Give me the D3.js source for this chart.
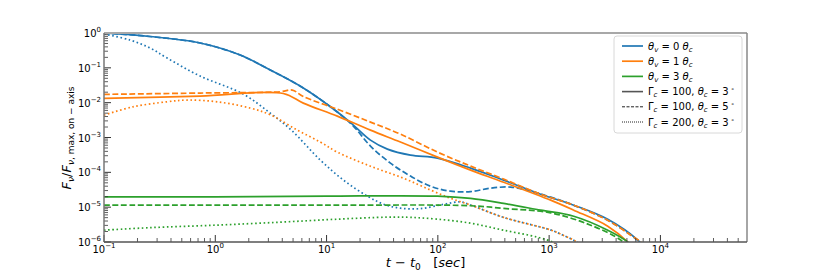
<!DOCTYPE html>
<html><head><meta charset="utf-8">
<script src="https://cdn.jsdelivr.net/npm/d3@7"></script>
<style>
body{margin:0;background:#fff}
svg{display:block}
text{font-family:"DejaVu Sans",sans-serif;fill:#000}
</style>
</head><body>
<svg id="c" width="830" height="277"></svg>
<script>
// ---------- data (t in sec, normalised flux) ----------
const xTickExps = [-1, 0, 1, 2, 3, 4];
const yTickExps = [-6, -5, -4, -3, -2, -1, 0];

// theta_v = 0 theta_c
const blueSolid = [[0.1,1.0],[0.259,0.793],[0.731,0.516],[1.675,0.233],[3.12,0.0865],[6.18,0.0263],[12.5,5.4e-3],[17.4,2.27e-3],[24.8,8.4e-4],[35.2,4.64e-4],[56.8,3.12e-4],[99.3,2.56e-4],[197,1.32e-4],[390,5.97e-5],[839,2.36e-5],[1663,1.14e-5],[3365,4.5e-6],[6270,1.13e-6],[7250,6.6e-7]];
const blueDashed = [[0.1,1.0],[0.259,0.793],[0.731,0.516],[1.675,0.233],[3.12,0.0865],[6.18,0.0263],[12.5,5.4e-3],[17.4,2.13e-3],[24.8,5.66e-4],[37.5,1.84e-4],[56.8,7.8e-5],[85.9,4.0e-5],[130,2.88e-5],[197,2.79e-5],[298,3.52e-5],[451,3.76e-5],[682,2.88e-5],[1033,1.94e-5],[1663,1.14e-5],[3365,4.2e-6],[6400,1.05e-6],[7250,6.6e-7]];
const blueDotted = [[0.1,0.936],[0.171,0.629],[0.259,0.371],[0.369,0.191],[0.731,0.058],[1.78,0.0177],[3.12,5.0e-3],[4.82,1.63e-3],[8.79,2.24e-4],[14.2,5.97e-5],[23.3,2.07e-5],[32.4,1.22e-5],[46.1,9.35e-6],[69.8,9.1e-6],[112,1.2e-5],[160,1.42e-5],[197,1.15e-5],[389,5.1e-6],[1040,2.2e-6],[1280,1.66e-6],[1770,1e-6],[2000,7e-7]];

// theta_v = 1 theta_c
const orangeSolid = [[0.1,0.0133],[0.731,0.0155],[4.08,0.0183],[6.18,9.7e-3],[12.5,4.1e-3],[24.8,1.63e-3],[46.1,7.4e-4],[99.3,2.73e-4],[197,1.16e-4],[390,5.2e-5],[1033,1.59e-5],[1663,8.2e-6],[3365,2.85e-6],[5093,9.9e-7],[5650,6.6e-7]];
const orangeDashed = [[0.1,0.0173],[0.731,0.0189],[3.84,0.0206],[4.92,0.0230],[6.18,0.0150],[12.5,6.5e-3],[24.8,2.77e-3],[46.1,1.25e-3],[99.3,3.8e-4],[197,1.51e-4],[390,6.4e-5],[839,2.36e-5],[1663,1.14e-5],[3365,4.2e-6],[5420,1.57e-6],[6670,9.9e-7],[7250,6.6e-7]];
const orangeDotted = [[0.1,4.4e-3],[0.182,7.6e-3],[0.369,0.0106],[0.558,0.0119],[1.04,0.0106],[2.06,7.0e-3],[3.12,4.5e-3],[5.46,1.63e-3],[8.79,7.4e-4],[12.5,3.8e-4],[24.8,1.5e-4],[49,6.8e-5],[86,3.1e-5],[130,1.8e-5],[197,1.15e-5],[389,5.1e-6],[1040,2.2e-6],[1280,1.66e-6],[1770,1e-6],[2000,7e-7]];

// theta_v = 3 theta_c
const greenSolid = [[0.1,1.98e-5],[1.0,1.98e-5],[10,2.07e-5],[99.3,2.07e-5],[197,1.78e-5],[390,1.28e-5],[839,8.2e-6],[1663,5.5e-6],[3365,2.18e-6],[5093,9.9e-7],[5420,7.6e-7]];
const greenDashed = [[0.1,1.14e-5],[10,1.14e-5],[197,1.10e-5],[390,9.2e-6],[1033,6.86e-6],[2366,3.04e-6],[4414,1.13e-6],[4900,7.6e-7]];
const greenDotted = [[0.1,2.18e-6],[0.259,2.58e-6],[1.0,3.04e-6],[3.84,3.71e-6],[12.5,4.52e-6],[35.2,5.16e-6],[56.8,5.1e-6],[99.3,4.52e-6],[197,3.47e-6],[390,2.18e-6],[789,1.37e-6],[1076,9.9e-7],[1170,8e-7]];

const colorLabels = ["0", "1", "3"];
const paramGamma = ["100", "100", "200"];
const paramTheta = ["3", "5", "3"];

// ---------- styling ----------
const C = ["#1f77b4", "#ff7f0e", "#2ca02c"];
const DASH = [null, "5.9,2.6", "1.6,2.6"];
const series = [
  [blueSolid, 0, 0], [blueDashed, 0, 1], [blueDotted, 0, 2],
  [orangeSolid, 1, 0], [orangeDashed, 1, 1], [orangeDotted, 1, 2],
  [greenSolid, 2, 0], [greenDashed, 2, 1], [greenDotted, 2, 2]
];

const L = 104, R = 747, T = 33, B = 242;
const svg = d3.select("#c");
const x = d3.scaleLog().domain([0.1, 6e4]).range([L, R]);
const y = d3.scaleLog().domain([1e-6, 1]).range([B, T]);

svg.append("defs").append("clipPath").attr("id", "clip")
  .append("rect").attr("x", L).attr("y", T).attr("width", R - L).attr("height", B - T);

const line = d3.line().x(d => x(d[0])).y(d => y(d[1])).curve(d3.curveCatmullRom.alpha(0.5));
const gLines = svg.append("g").attr("clip-path", "url(#clip)");
series.forEach(([data, ci, si]) => {
  gLines.append("path").attr("d", line(data))
    .attr("fill", "none").attr("stroke", C[ci]).attr("stroke-width", 1.7)
    .attr("stroke-dasharray", DASH[si]);
});

// ---------- ticks ----------
const gAx = svg.append("g");
const xMinor = [], yMinor = [];
for (let e = -1; e <= 4; e++) for (let m = 2; m <= 9; m++) { const v = m * Math.pow(10, e); if (v < 6e4) xMinor.push(v); }
for (let e = -6; e < 0; e++) for (let m = 2; m <= 9; m++) yMinor.push(m * Math.pow(10, e));
xMinor.forEach(v => gAx.append("line").attr("x1", x(v)).attr("x2", x(v)).attr("y1", B).attr("y2", B - 4).attr("stroke", "#333").attr("stroke-width", 0.8));
yMinor.forEach(v => gAx.append("line").attr("x1", L).attr("x2", L + 4).attr("y1", y(v)).attr("y2", y(v)).attr("stroke", "#333").attr("stroke-width", 0.8));
xTickExps.forEach(e => {
  const v = Math.pow(10, e);
  gAx.append("line").attr("x1", x(v)).attr("x2", x(v)).attr("y1", B).attr("y2", B - 7).attr("stroke", "#333").attr("stroke-width", 1);
  const t = gAx.append("text").attr("x", x(v)).attr("y", B + 11).attr("text-anchor", "middle").attr("font-size", 10).text("10");
  t.append("tspan").attr("dy", -5).attr("font-size", 7).text(String(e).replace("-", "\u2212"));
});
yTickExps.forEach(e => {
  const v = Math.pow(10, e);
  gAx.append("line").attr("x1", L).attr("x2", L + 7).attr("y1", y(v)).attr("y2", y(v)).attr("stroke", "#333").attr("stroke-width", 1);
  const t = gAx.append("text").attr("x", L - 3).attr("y", y(v) + 4).attr("text-anchor", "end").attr("font-size", 10).text("10");
  t.append("tspan").attr("dy", -5).attr("font-size", 7).text(String(e).replace("-", "\u2212"));
});

// spines
gAx.append("line").attr("x1", L).attr("x2", R).attr("y1", T).attr("y2", T).attr("stroke", "#a8a8a8").attr("stroke-width", 1.8);
gAx.append("line").attr("x1", R).attr("x2", R).attr("y1", T).attr("y2", B).attr("stroke", "#888").attr("stroke-width", 1.5);
gAx.append("line").attr("x1", L).attr("x2", L).attr("y1", T).attr("y2", B).attr("stroke", "#777").attr("stroke-width", 1.5);
gAx.append("line").attr("x1", L).attr("x2", R).attr("y1", B).attr("y2", B).attr("stroke", "#555").attr("stroke-width", 1.5);

// ---------- axis labels ----------
const xl = svg.append("text").attr("x", (L + R) / 2).attr("y", 267).attr("text-anchor", "middle").attr("font-size", 13);
xl.append("tspan").attr("font-style", "italic").text("t");
xl.append("tspan").text(" \u2212 ");
xl.append("tspan").attr("font-style", "italic").text("t");
xl.append("tspan").attr("font-size", 9).attr("dy", 3).text("0");
xl.append("tspan").attr("dy", -3).text("\u00a0\u00a0\u00a0[");
xl.append("tspan").attr("font-style", "italic").text("sec");
xl.append("tspan").text("]");

const yl = svg.append("text").attr("transform", "translate(71,138) rotate(-90)").attr("text-anchor", "middle").attr("font-size", 13);
yl.append("tspan").attr("font-style", "italic").text("F");
yl.append("tspan").attr("font-style", "italic").attr("font-size", 9).attr("dy", 3).text("\u03bd");
yl.append("tspan").attr("dy", -3).text("/");
yl.append("tspan").attr("font-style", "italic").text("F");
yl.append("tspan").attr("font-style", "italic").attr("font-size", 9).attr("dy", 3).text("\u03bd");
yl.append("tspan").attr("font-size", 9).text(", max, on \u2212 axis");

// ---------- legend ----------
const lg = svg.append("g");
lg.append("rect").attr("x", 614).attr("y", 36).attr("width", 128).attr("height", 97).attr("rx", 3)
  .attr("fill", "#fff").attr("fill-opacity", 0.8).attr("stroke", "#d8d8d8").attr("stroke-width", 1);
const rowY = i => 46 + i * 15.2;
colorLabels.forEach((lab, i) => {
  lg.append("line").attr("x1", 622).attr("x2", 643).attr("y1", rowY(i)).attr("y2", rowY(i)).attr("stroke", C[i]).attr("stroke-width", 1.7);
  const t = lg.append("text").attr("x", 648).attr("y", rowY(i) + 3.5).attr("font-size", 10);
  t.append("tspan").attr("font-style", "italic").text("\u03b8");
  t.append("tspan").attr("font-style", "italic").attr("font-size", 7).attr("dy", 2).text("v");
  t.append("tspan").attr("dy", -2).text(" = " + lab + " ");
  t.append("tspan").attr("font-style", "italic").text("\u03b8");
  t.append("tspan").attr("font-style", "italic").attr("font-size", 7).attr("dy", 2).text("c");
});
const legStroke = ["#555", "#222", "#222"];
const legW = [1.6, 1, 1];
const legDash = [null, "3,1.5", "1,1"];
paramGamma.forEach((g, j) => {
  const i = j + 3;
  lg.append("line").attr("x1", 622).attr("x2", 643).attr("y1", rowY(i)).attr("y2", rowY(i))
    .attr("stroke", legStroke[j]).attr("stroke-width", legW[j]).attr("stroke-dasharray", legDash[j]);
  const t = lg.append("text").attr("x", 648).attr("y", rowY(i) + 3.5).attr("font-size", 10);
  t.append("tspan").text("\u0393");
  t.append("tspan").attr("font-style", "italic").attr("font-size", 7).attr("dy", 2).text("c");
  t.append("tspan").attr("dy", -2).text(" = " + g + ", ");
  t.append("tspan").attr("font-style", "italic").text("\u03b8");
  t.append("tspan").attr("font-style", "italic").attr("font-size", 7).attr("dy", 2).text("c");
  t.append("tspan").attr("dy", -2).text(" = " + paramTheta[j]);
  t.append("tspan").attr("font-size", 6).attr("dy", -4).text(" \u2218");
});
</script>
</body></html>
